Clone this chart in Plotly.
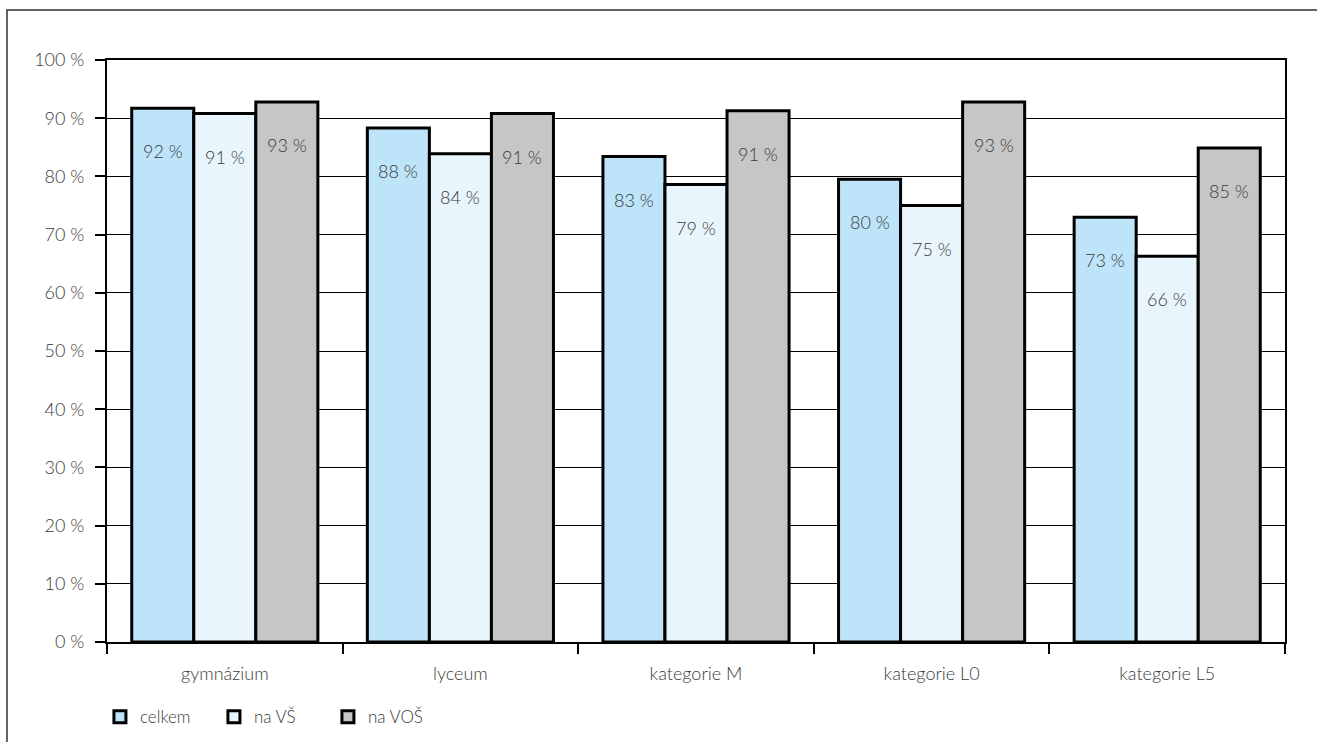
import plotly.graph_objects as go

categories = ["gymnázium", "lyceum", "kategorie M", "kategorie L0", "kategorie L5"]
series_names = ["celkem", "na VŠ", "na VOŠ"]
celkem = [91.7, 88.3, 83.4, 79.5, 73.0]
na_vs = [90.8, 83.9, 78.6, 75.0, 66.3]
na_vos = [92.8, 90.8, 91.3, 92.8, 84.9]
labels_celkem = ["92 %", "88 %", "83 %", "80 %", "73 %"]
labels_vs = ["91 %", "84 %", "79 %", "75 %", "66 %"]
labels_vos = ["93 %", "91 %", "91 %", "93 %", "85 %"]
y_ticks = [0, 10, 20, 30, 40, 50, 60, 70, 80, 90, 100]
y_tick_text = ["0 %", "10 %", "20 %", "30 %", "40 %", "50 %", "60 %", "70 %", "80 %", "90 %", "100 %"]

colors = ["#BEE4F9", "#E9F5FD", "#C6C6C6"]
values = [celkem, na_vs, na_vos]
labels = [labels_celkem, labels_vs, labels_vos]

FONT = "Lato, 'Open Sans', sans-serif"
TXT = "#3a3a3a"

fig = go.Figure()
for name, vals, col in zip(series_names, values, colors):
    fig.add_trace(go.Bar(
        x=categories, y=vals, name=name,
        marker=dict(color=col, line=dict(color="black", width=3)),
    ))

W, H = 1317, 742
L, R, T, B = 107, 32, 60, 100
pw = W - L - R
ph = H - T - B

bargap = 0.21
cat_w = pw / len(categories)
bar_w = cat_w * (1 - bargap) / 3
annotations = []
for i, (vals, labs) in enumerate(zip(values, labels)):
    for c, v, lab in zip(categories, vals, labs):
        annotations.append(dict(
            x=c, y=v, xref="x", yref="y", text=lab, showarrow=False,
            xshift=(i - 1) * bar_w, yshift=-43,
            font=dict(family=FONT, size=18, color=TXT, weight=300),
        ))

shapes = [dict(
    type="rect", xref="paper", yref="paper",
    x0=(7 - L) / pw, x1=(1320 - L) / pw,
    y0=(H - B - 760) / ph, y1=(H - B - 10) / ph,
    line=dict(color="#333333", width=1.5), fillcolor="rgba(0,0,0,0)", layer="below",
)]

fig.update_layout(
    width=W, height=H,
    margin=dict(l=L, r=R, t=T, b=B, pad=0, autoexpand=False),
    paper_bgcolor="white", plot_bgcolor="white",
    barmode="group", bargap=bargap, bargroupgap=0,
    font=dict(family=FONT, size=17, color=TXT, weight=300),
    annotations=annotations,
    shapes=shapes,
    legend=dict(
        orientation="h", x=-0.006, xanchor="left", y=-0.129, yanchor="middle",
        font=dict(family=FONT, size=17, color=TXT, weight=300),
        entrywidth=69, entrywidthmode="pixels", traceorder="normal",
        bgcolor="rgba(0,0,0,0)",
    ),
    xaxis=dict(
        showline=True, linecolor="black", linewidth=2, mirror=True,
        ticks="outside", tickson="boundaries", ticklen=10, tickcolor="black", tickwidth=1.5,
        ticklabelstandoff=14,
        tickfont=dict(family=FONT, size=18, color=TXT, weight=300),
        showgrid=False, automargin=False,
    ),
    yaxis=dict(
        range=[0, 100], tickmode="array", tickvals=y_ticks, ticktext=y_tick_text,
        showline=True, linecolor="black", linewidth=2, mirror=True,
        ticks="outside", ticklen=10, tickcolor="black", tickwidth=1.5,
        ticklabelstandoff=7,
        showgrid=True, gridcolor="black", gridwidth=1.2,
        tickfont=dict(family=FONT, size=18, color=TXT, weight=300),
        zeroline=False, automargin=False,
    ),
)

fig.write_html("out.html", config={"displayModeBar": False},
               post_script="document.body.style.margin='0';")
